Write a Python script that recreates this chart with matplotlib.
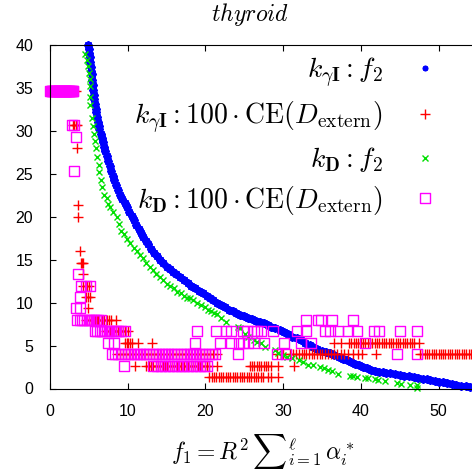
import numpy as np
import matplotlib
matplotlib.use("Agg")
import matplotlib.pyplot as plt
from matplotlib.path import Path

plt.rcParams['mathtext.fontset'] = 'cm'
plt.rcParams['font.family'] = ['Liberation Sans', 'DejaVu Sans']

# ---------------- data ----------------
# k_gammaI : f2  (blue)
blue_x = [4.93, 4.98, 5.05, 5.12, 5.2, 5.25, 5.3, 5.35, 5.42, 5.5, 5.58, 5.65, 5.72, 5.8, 5.9, 5.95,
          6.05, 6.15, 6.25, 6.35, 6.5, 6.65, 6.8, 6.95, 7.1, 7.3, 7.5, 7.7, 7.9, 8.1, 8.3, 8.55, 8.8,
          9.05, 9.3, 9.6, 9.9, 10.2, 10.5, 10.8, 11.1, 11.4, 11.7, 12.0, 12.3, 12.6, 13.0, 13.4, 13.8,
          14.2, 14.6, 15.0, 15.4, 15.8, 16.2, 16.7, 17.2, 17.7, 18.2, 18.7, 19.2, 19.7, 20.2, 20.6,
          21.0, 21.5, 22.0, 22.5, 23.0, 23.5, 24.0, 24.5, 25.0, 25.5, 26.0, 26.5, 27.0, 27.5, 28.0,
          28.5, 29.0, 29.6, 30.1, 30.6, 31.2, 31.75, 32.3, 32.8, 33.4, 33.9, 34.4, 35.0, 35.5, 36.0,
          36.6, 37.2, 37.7, 38.2, 38.7, 39.3, 39.8, 40.3, 40.8, 41.3, 41.8, 42.3, 42.8, 43.3, 43.8,
          44.4, 45.0, 45.6, 46.2, 46.8, 47.4, 48.0, 48.5, 48.9, 49.5, 50.0, 50.6, 51.1, 51.7, 52.3,
          52.9, 53.5, 54.1, 54.6]
blue_y = [40.0, 39.6, 39.1, 38.6, 38.0, 37.5, 37.0, 36.6, 36.0, 35.4, 34.8, 34.2, 33.7, 33.2, 32.6, 32.2,
          31.6, 31.1, 30.6, 30.2, 29.7, 29.2, 28.7, 28.2, 27.7, 27.1, 26.5, 25.9, 25.4, 24.8, 24.3, 23.7, 23.1,
          22.6, 22.1, 21.6, 21.1, 20.6, 20.1, 19.6, 19.1, 18.6, 18.1, 17.6, 17.2, 16.8, 16.3, 15.8, 15.4,
          15.0, 14.6, 14.2, 13.9, 13.6, 13.3, 13.0, 12.6, 12.3, 12.0, 11.7, 11.4, 11.1, 10.8, 10.5,
          10.3, 10.0, 9.7, 9.5, 9.2, 9.0, 8.75, 8.6, 8.4, 8.25, 8.05, 7.9, 7.75, 7.6, 7.4,
          7.2, 7.0, 6.8, 6.55, 6.3, 6.05, 5.84, 5.6, 5.35, 5.1, 4.86, 4.65, 4.4, 4.25, 4.1,
          3.85, 3.65, 3.45, 3.3, 3.1, 2.85, 2.7, 2.53, 2.35, 2.15, 2.05, 1.95, 1.9, 1.83, 1.77,
          1.7, 1.6, 1.5, 1.45, 1.37, 1.25, 1.15, 1.05, 0.99, 0.9, 0.8, 0.7, 0.6, 0.5, 0.42,
          0.34, 0.27, 0.21, 0.15]

# k_gammaI : 100*CE (red), x positions per error level
red_levels = {
    34.67: [2.5, 2.8, 3.1, 3.4],
    30.67: [3.0, 3.15, 3.3, 3.45],
    28.0: [3.5],
    21.33: [3.65],
    20.0: [3.65],
    16.0: [3.85],
    14.67: [4.0, 4.1, 4.2],
    13.33: [4.3],
    12.0: [4.3, 4.7, 5.0],
    10.67: [4.6, 4.9, 5.1],
    9.33: [4.9],
    8.0: [4.6, 5.0, 5.3, 5.5, 5.8, 6.0, 6.2, 6.5, 6.7, 7.0, 7.3, 7.6, 7.9, 8.5],
    6.67: [7.2, 7.4, 7.7, 7.9, 8.1, 8.3, 8.5, 8.7, 8.9, 9.1, 9.4, 9.7, 10.1],
    5.33: [9.7, 9.9, 10.1, 10.3, 10.6, 11.3, 13.1,
           36.6, 37.5, 38.5, 38.8, 39.1, 39.4, 39.7, 40.0, 40.3, 40.6, 40.9, 41.2, 41.5, 41.8,
           42.1, 42.4, 42.7, 43.0, 43.3, 43.6, 43.9, 44.2, 44.5, 44.8, 45.1, 45.4, 45.7, 46.0,
           46.3, 46.6, 46.9, 47.5],
    4.0: [8.6, 9.0, 9.4, 9.8, 10.2, 10.6, 11.0, 11.4, 11.8, 12.2, 12.6, 13.0, 13.4, 13.8, 14.2,
          14.6, 15.0, 15.4, 15.8, 16.2, 16.6, 17.0, 17.4, 17.8, 18.2, 18.6, 19.0, 19.4, 19.8,
          20.2, 20.6, 21.0, 21.5,
          29.2, 30.0, 30.9, 31.3, 31.7, 32.0, 32.4, 32.7, 33.0, 33.3, 33.7, 34.0, 34.3, 34.7,
          35.0, 35.4, 35.8, 36.2, 36.6, 37.0, 37.4, 37.8, 38.3, 39.0, 39.6, 40.1, 41.9,
          47.6, 47.9, 48.2, 48.5, 48.8, 49.1, 49.4, 49.7, 50.0, 50.3, 50.6, 50.9, 51.2, 51.5,
          51.8, 52.1, 52.4, 52.7, 53.0, 53.3, 53.6, 53.9, 54.2],
    2.67: [10.9, 12.4, 12.7, 13.0, 13.3, 13.6, 13.9, 14.2, 14.5, 14.8, 15.1, 15.4, 15.7, 16.0,
           16.3, 16.6, 16.9, 17.2, 17.5, 17.8, 18.1, 18.4, 18.7, 19.0, 19.3, 19.6, 19.9, 20.2,
           20.5, 21.5,
           25.7, 26.0, 26.3, 26.6, 26.9, 27.2, 27.5, 27.8, 28.1, 28.4, 29.4, 31.4],
    1.33: [20.5, 20.8, 21.1, 21.4, 21.7, 22.0, 22.3, 22.6, 22.9, 23.2, 23.5, 23.8, 24.1, 24.4,
           24.7, 25.0, 25.3, 25.6, 25.9, 26.2, 26.5, 26.8, 27.1, 27.4, 28.0, 28.4, 29.3],
}

# k_D : f2 (green)
green_x = [4.5, 4.7, 4.9, 5.0, 5.15, 5.15, 5.2, 5.15, 5.4, 5.58, 5.7, 5.8, 5.95, 6.1, 6.25, 6.35,
           6.5, 6.65, 7.0, 7.3, 7.5, 7.72, 8.1, 8.58, 8.9, 9.2, 9.5, 9.9, 10.3, 10.8, 11.2, 11.6,
           12.0, 12.4, 12.9, 13.3, 13.7, 14.1, 14.6, 15.0, 15.5, 15.9, 16.4, 16.8, 17.2, 17.6,
           18.0, 18.4, 18.9, 19.4, 19.9, 20.3, 20.7, 21.1, 21.5, 22.0, 22.7, 24.2, 24.5, 25.1,
           25.5, 26.2, 26.6, 27.2, 27.7, 28.9, 29.4, 30.0, 30.5, 31.2, 32.0, 32.5, 33.2, 33.8,
           34.7, 35.2, 35.8, 36.3, 37.1, 38.6, 39.0, 39.5, 40.5, 40.9, 41.8, 42.2, 43.1, 44.6,
           45.2, 46.3, 47.2, 47.2]
green_y = [39.0, 38.3, 37.6, 36.8, 36.1, 35.2, 34.0, 33.0, 31.5, 30.6, 29.7, 28.9, 28.0, 27.0, 26.1, 25.2,
           24.3, 23.5, 22.6, 22.2, 21.5, 21.1, 20.6, 20.0, 19.2, 18.4, 18.0, 17.4, 16.9, 16.4, 16.0, 15.6,
           15.2, 14.6, 14.2, 13.8, 13.3, 13.0, 12.6, 12.2, 12.0, 11.7, 11.3, 11.1, 10.8, 10.6,
           10.5, 10.3, 9.95, 9.7, 9.5, 9.2, 9.0, 8.85, 8.7, 8.2, 7.8, 7.2, 7.0, 6.4,
           6.0, 5.64, 5.4, 5.25, 4.86, 4.48, 4.1, 3.9, 3.7, 3.5, 3.3, 3.1, 2.75, 2.7,
           2.53, 2.4, 2.15, 2.0, 1.7, 1.45, 1.45, 1.37, 1.19, 1.2, 1.05, 1.0, 0.85, 0.6,
           0.55, 0.4, 0.35, 0.05]

# k_D : 100*CE (magenta), x positions per error level
mag_levels = {
    34.67: [0.0, 0.1, 0.2, 0.3, 0.4, 0.5, 0.6, 0.7, 0.8, 0.9, 1.0, 1.1, 1.2, 1.3, 1.4, 1.5, 1.6,
            1.7, 1.8, 1.9, 2.0, 2.1, 2.2, 2.3, 2.4, 2.5, 2.6, 2.7, 2.8, 2.9, 3.0],
    30.67: [2.8, 3.05],
    29.33: [3.35],
    25.33: [3.15],
    13.33: [3.6],
    12.0: [3.95, 4.6, 5.1],
    10.67: [3.85],
    9.33: [3.4, 3.8],
    8.0: [3.5, 3.8, 4.1, 4.4, 4.7, 5.0, 5.3, 5.6, 5.9, 6.2, 6.5, 33.0, 34.5, 34.9, 36.3, 39.0],
    6.67: [5.8, 6.1, 6.4, 6.7, 7.0, 7.3, 7.6, 7.9, 8.2, 8.5, 8.8, 9.1, 9.6,
           18.9, 21.3, 22.7, 23.3, 24.9, 25.4, 26.2, 26.6, 27.2, 28.7, 31.75, 33.0, 35.4, 36.0,
           37.1, 38.3, 39.5, 41.7, 42.3, 45.0, 47.2],
    5.33: [7.5, 8.3, 18.7, 21.9, 23.3, 24.3, 24.9, 25.5, 26.2, 27.5, 30.1, 32.3, 33.6, 40.5],
    4.0: [8.0, 8.4, 8.8, 9.2, 9.6, 10.0, 10.4, 10.8, 11.2, 11.6, 12.0, 12.4, 12.8, 13.2, 13.6,
          14.0, 14.4, 14.8, 15.2, 15.6, 16.0, 16.4, 16.8, 17.2, 17.6, 18.0, 18.4, 18.8, 19.2,
          19.6, 20.0, 20.4, 20.8, 21.2, 24.2, 29.2, 30.4, 44.6, 47.2],
    2.67: [9.5, 13.3, 13.8, 14.3, 14.8, 15.3, 15.8, 16.3, 16.8, 17.3, 17.8, 18.3, 18.8, 19.3,
           19.8, 20.2],
}

labels = [r'$k_{\gamma\mathbf{I}} : f_2$',
          r'$k_{\gamma\mathbf{I}} : 100\cdot\mathrm{CE}(D_{\mathrm{extern}})$',
          r'$k_{\mathbf{D}} : f_2$',
          r'$k_{\mathbf{D}} : 100\cdot\mathrm{CE}(D_{\mathrm{extern}})$']
title = r'$\mathit{thyroid}$'
xlabel = r'$f_1 = R^2\,{\sum}_{i=1}^{\ell}\,\alpha_i^*$'
xticks = [0, 10, 20, 30, 40, 50]
yticks = [0, 5, 10, 15, 20, 25, 30, 35, 40]


def flatten(levels):
    xs, ys = [], []
    for lvl, xl in levels.items():
        xs.extend(xl)
        ys.extend([lvl] * len(xl))
    return xs, ys


red_x, red_y = flatten(red_levels)
mag_x, mag_y = flatten(mag_levels)

# box-with-dot marker
s, d = 1.0, 0.08
boxdot = Path([(-s, -s), (s, -s), (s, s), (-s, s), (-s, -s),
               (-d, -d), (d, -d), (d, d), (-d, d), (-d, -d)],
              [Path.MOVETO, Path.LINETO, Path.LINETO, Path.LINETO, Path.CLOSEPOLY,
               Path.MOVETO, Path.LINETO, Path.LINETO, Path.LINETO, Path.CLOSEPOLY])

W, H = 472, 470
fig = plt.figure(figsize=(W / 100, H / 100), dpi=100)
ax = fig.add_axes([50 / W, (H - 388.5) / H, (W - 50) / W, (388.5 - 45.3) / H])

ax.plot(blue_x, blue_y, ls='none', marker=(8, 2, 0), ms=6.0, mew=1.4, color='#0000ff',
        label=labels[0], clip_on=False)
ax.plot(red_x, red_y, ls='none', marker='+', ms=7.5, mew=1.0, color='#ff0000',
        label=labels[1], clip_on=False)
ax.plot(green_x, green_y, ls='none', marker='x', ms=4.0, mew=1.0, color='#00e000',
        label=labels[2], clip_on=False)
ax.plot(mag_x, mag_y, ls='none', marker=boxdot, ms=7.0, mew=1.0, mfc='none', color='#ff00ff',
        label=labels[3], clip_on=False)

ax.set_xlim(0, (W - 50) / 7.77)
ax.set_ylim(0, 40)
ax.set_xticks(xticks)
ax.set_yticks(yticks)
ax.tick_params(direction='in', length=4, width=0.8, labelsize=11.5, top=True, right=False,
               colors='black')
ax.tick_params(axis='y', pad=12)
ax.tick_params(axis='x', pad=11)
ax.spines['right'].set_visible(False)
for sp in ax.spines.values():
    sp.set_linewidth(0.8)

fs = 20
leg = ax.legend(loc='upper right', bbox_to_anchor=(433 / W, 1 - 55 / H),
                bbox_transform=fig.transFigure,
                frameon=False, markerfirst=False, fontsize=fs, handletextpad=1.2,
                labelspacing=0.35, handlelength=0.6, borderaxespad=0.0, borderpad=0.0)
for col in leg._legend_handle_box.get_children():
    col.align = 'right'
leg.legend_handles[0].set_markersize(4)

fig.text(250 / W, 1 - 15 / H, title, ha='center', va='center', fontsize=17)
fig.text(263 / W, 1 - 452 / H, xlabel, ha='center', va='center', fontsize=17)

fig.savefig('out.png', dpi=100)
